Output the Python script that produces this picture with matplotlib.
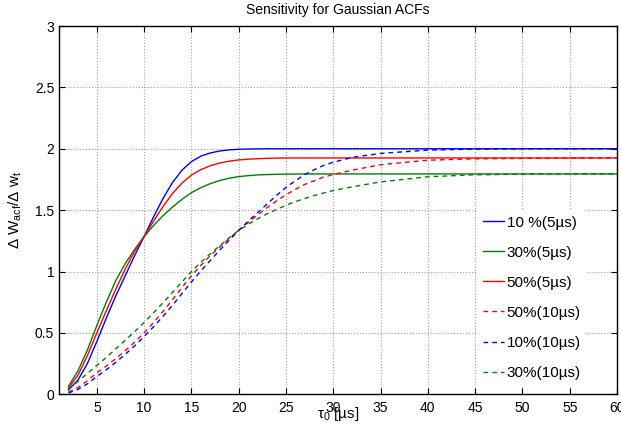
import matplotlib
matplotlib.use("Agg")
import matplotlib.pyplot as plt

# ------------------------------------------------------------
# data (tau_0 in us, sensitivity)
# ------------------------------------------------------------
tau = [2, 3, 4, 5, 6, 7, 8, 9, 10, 11, 12, 13, 14, 15, 16, 17, 18, 19, 20,
       21, 22, 23, 24, 25, 26, 27, 28, 29, 30, 32, 35, 40, 45, 50, 55, 60]

blue_5us = [0.035, 0.115, 0.25, 0.43, 0.62, 0.80, 0.965, 1.13, 1.285, 1.445,
            1.595, 1.725, 1.825, 1.895, 1.94, 1.966, 1.982, 1.991, 1.996,
            1.998, 1.999, 2.0, 2.0, 2.0, 2.0, 2.0, 2.0, 2.0, 2.0, 2.0, 2.0,
            2.0, 2.0, 2.0, 2.0, 2.0]
green_5us = [0.065, 0.19, 0.36, 0.56, 0.75, 0.925, 1.065, 1.18, 1.285, 1.375,
             1.455, 1.525, 1.588, 1.642, 1.683, 1.716, 1.741, 1.76, 1.773,
             1.781, 1.787, 1.79, 1.792, 1.793, 1.794, 1.795, 1.795, 1.795,
             1.795, 1.795, 1.795, 1.795, 1.795, 1.795, 1.795, 1.795]
red_5us = [0.05, 0.155, 0.315, 0.50, 0.68, 0.855, 1.02, 1.165, 1.285, 1.41,
           1.53, 1.635, 1.72, 1.785, 1.83, 1.862, 1.884, 1.899, 1.909, 1.915,
           1.919, 1.922, 1.924, 1.925, 1.925, 1.925, 1.925, 1.925, 1.925,
           1.925, 1.925, 1.925, 1.925, 1.925, 1.925, 1.925]
red_10us = [0.018, 0.055, 0.11, 0.175, 0.23, 0.29, 0.355, 0.425, 0.50, 0.585,
            0.675, 0.77, 0.87, 0.965, 1.05, 1.13, 1.20, 1.27, 1.335, 1.40,
            1.46, 1.52, 1.575, 1.625, 1.67, 1.71, 1.74, 1.77, 1.79, 1.825,
            1.87, 1.907, 1.918, 1.922, 1.924, 1.925]
blue_10us = [0.01, 0.04, 0.085, 0.145, 0.20, 0.26, 0.325, 0.395, 0.47, 0.55,
             0.635, 0.725, 0.82, 0.915, 1.005, 1.09, 1.175, 1.255, 1.335,
             1.41, 1.48, 1.55, 1.62, 1.685, 1.74, 1.79, 1.83, 1.865, 1.89,
             1.93, 1.962, 1.989, 1.997, 2.0, 2.0, 2.0]
green_10us = [0.045, 0.105, 0.17, 0.235, 0.30, 0.37, 0.44, 0.51, 0.585, 0.665,
              0.745, 0.83, 0.915, 1.0, 1.075, 1.145, 1.21, 1.275, 1.335, 1.385,
              1.43, 1.47, 1.505, 1.54, 1.57, 1.595, 1.62, 1.64, 1.66, 1.69,
              1.73, 1.772, 1.788, 1.793, 1.795, 1.795]

labels = ["10 %(5\u00b5s)", "30%(5\u00b5s)", "50%(5\u00b5s)",
          "50%(10\u00b5s)", "10%(10\u00b5s)", "30%(10\u00b5s)"]
x_ticks = [5, 10, 15, 20, 25, 30, 35, 40, 45, 50, 55, 60]
y_ticks = [0, 0.5, 1, 1.5, 2, 2.5, 3]

# ------------------------------------------------------------
plt.rcParams['font.family'] = ['Liberation Sans', 'DejaVu Sans']
plt.rcParams['mathtext.fontset'] = 'custom'
plt.rcParams['mathtext.rm'] = 'Liberation Sans'
plt.rcParams['mathtext.default'] = 'regular'

BLUE, GREEN, RED = '#0000ff', '#008000', '#ff0000'
DASH = (3.4, 2.9)

fig = plt.figure(figsize=(6.21, 4.32), dpi=100)
ax = fig.add_axes([0.095, 0.0873, 0.8986, 0.8525])

series = [
    (blue_5us, BLUE, '-'), (green_5us, GREEN, '-'), (red_5us, RED, '-'),
    (red_10us, RED, '--'), (blue_10us, BLUE, '--'), (green_10us, GREEN, '--'),
]
for (vals, c, ls), lab in zip(series, labels):
    line, = ax.plot(tau, vals, color=c, linestyle=ls, linewidth=1.0, label=lab)
    if ls == '--':
        line.set_dashes(DASH)

ax.set_xlim(1, 60)
ax.set_ylim(0, 3)
ax.set_xticks(x_ticks)
ax.set_yticks(y_ticks)
ax.set_yticklabels(['0', '0.5', '1', '1.5', '2', '2.5', '3'])
ax.tick_params(direction='in', top=True, right=True, length=4, width=0.8,
               labelsize=10, colors='black')
ax.tick_params(axis='x', pad=5)
ax.grid(True, linestyle=':', color='#a0a0a0', linewidth=0.8)
for s in ax.spines.values():
    s.set_linewidth(1.0)

ax.set_title("Sensitivity for Gaussian ACFs", fontsize=10, pad=9)
ax.set_xlabel("\u03c4$_0$ [\u00b5s]", fontsize=11)
ax.xaxis.set_label_coords(0.5, -0.028)
ax.set_ylabel("\u0394 W$_{acf}$/\u0394 w$_t$", fontsize=11)
ax.yaxis.set_label_coords(-0.062, 0.5)

leg = ax.legend(loc='lower right', bbox_to_anchor=(0.946, 0.0225),
                borderaxespad=0, frameon=True, fancybox=False,
                edgecolor='none', facecolor='white', framealpha=1,
                fontsize=11, handlelength=1.37, handletextpad=0.17,
                labelspacing=1.05, borderpad=0.4)

fig.savefig("out.png", dpi=100)
